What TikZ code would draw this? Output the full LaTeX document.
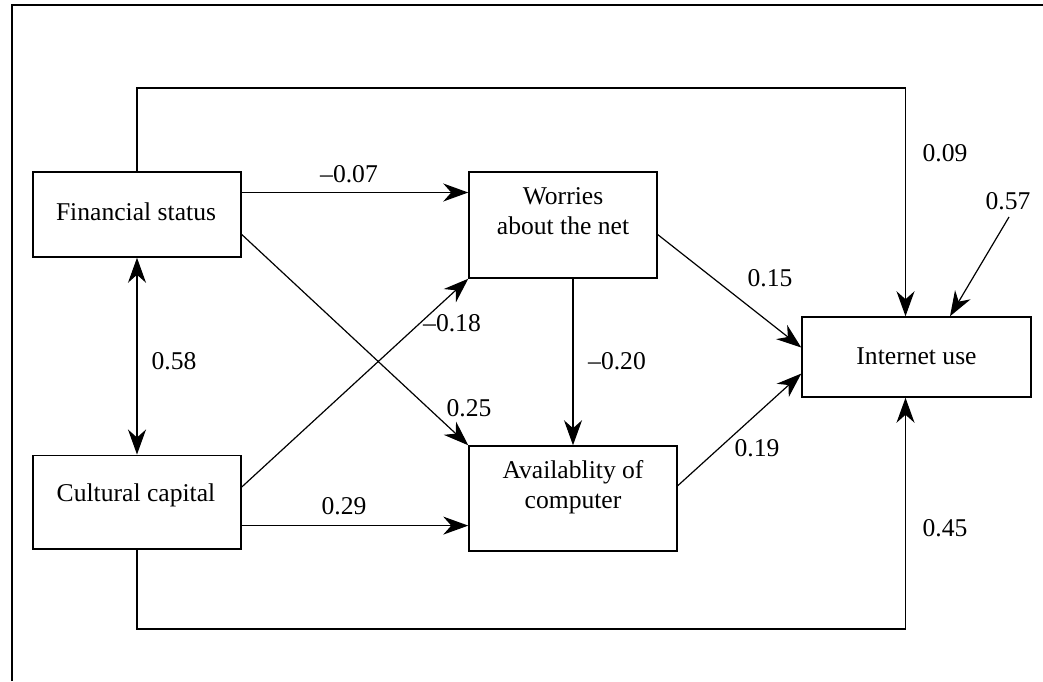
\documentclass[tikz,border=0pt]{standalone}
\usepackage{fontspec}
\setmainfont{Liberation Serif}
\usetikzlibrary{arrows.meta}
\begin{document}
\begin{tikzpicture}[x=1pt,y=-1pt,
  box/.style={draw,line width=1.5pt,rectangle,inner sep=0pt},
  txt/.style={align=center,inner sep=0pt,font=\fontsize{25.6}{30}\selectfont},
  lbl/.style={inner sep=0pt,font=\fontsize{25.6}{30}\selectfont},
  tip/.style={Stealth[length=25pt,width=18pt,inset=8pt]},
  conn/.style={line width=1.2pt,-{Stealth[length=25pt,width=18pt,inset=8pt]}},
  dconn/.style={line width=1.2pt,{Stealth[length=25pt,width=18pt,inset=8pt]}-{Stealth[length=25pt,width=18pt,inset=8pt]}},
  plain/.style={line width=1.2pt}]
\useasboundingbox (0,0) rectangle (1043,681);
\draw[line width=1.5pt] (12,681) -- (12,5) -- (1043,5);

% boxes
\node[box,minimum width=208pt,minimum height=85pt] (fin) at (137,214.5) {};
\node[txt] (fint) at (136,212) {Financial status};
\node[box,minimum width=208pt,minimum height=93.5pt] (cul) at (137,502) {};
\node[txt] (cult) at (136,495) {Cultural capital};
\node[box,minimum width=188pt,minimum height=106pt] (wor) at (563,225) {};
\node[txt] (wort) at (563,211) {Worries\\about the net};
\node[box,minimum width=208pt,minimum height=105pt] (ava) at (573,498.5) {};
\node[txt] (avat) at (573,487) {Availablity of\\computer};
\node[box,minimum width=229pt,minimum height=80pt] (inet) at (916.5,357) {};
\node[txt] (inett) at (916.5,356) {Internet use};

% coordinates
\coordinate (topc) at (905.5,88);
\coordinate (botc) at (905.5,629);
\coordinate (err) at (1009,217);

% connectors
\draw[plain] (fin.north) -- (fin.north |- topc) -- (topc);
\draw[conn] (topc) -- ([xshift=-11pt]inet.north);
\draw[plain] (cul.south) -- (cul.south |- botc) -- (botc);
\draw[conn] (botc) -- ([xshift=-11pt]inet.south);
\draw[conn] ([yshift=22pt]fin.east) -- ([yshift=22pt]fin.east -| wor.west);
\draw[conn] ([yshift=-20pt]fin.east) -- (ava.north west);
\draw[dconn] (fin.south) -- (cul.north);
\draw[conn] ([yshift=15pt]cul.east) -- (wor.south west);
\draw[conn] ([yshift=-23.6pt]cul.east) -- ([yshift=-23.6pt]cul.east -| ava.west);
\draw[conn] (wor.south -| ava.north) -- (ava.north);
\draw[conn] ([yshift=-9.6pt]wor.east) -- ([yshift=9.5pt]inet.west);
\draw[conn] ([yshift=12.8pt]ava.east) -- ([yshift=-16.6pt]inet.west);
\draw[conn] (err) -- ([xshift=33.5pt]inet.north);

% labels
\node[lbl] (l1) at (349,174) {--0.07};
\node[lbl] (l2) at (452,323.6) {--0.18};
\node[lbl] (l3) at (174,361) {0.58};
\node[lbl] (l4) at (469,408) {0.25};
\node[lbl] (l5) at (617,361) {--0.20};
\node[lbl] (l6) at (770,278) {0.15};
\node[lbl] (l7) at (757,448) {0.19};
\node[lbl] (l8) at (945,153) {0.09};
\node[lbl] (l9) at (1008,200.7) {0.57};
\node[lbl] (l10) at (945,528) {0.45};
\node[lbl] (l11) at (344,506) {0.29};
\end{tikzpicture}
\end{document}
